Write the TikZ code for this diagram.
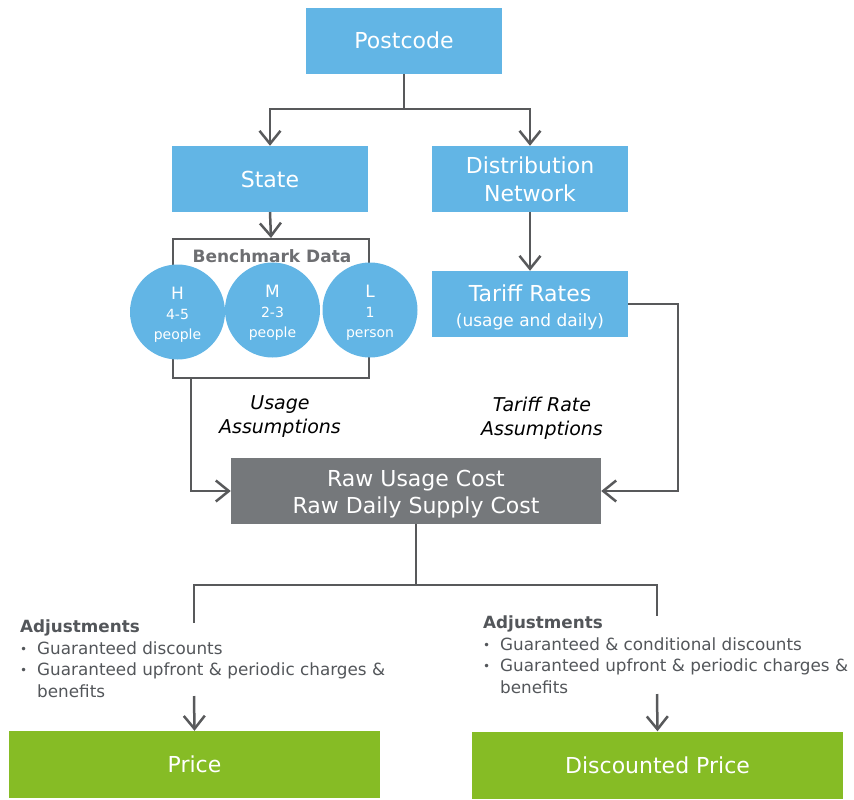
\documentclass[tikz,border=0pt]{standalone}
\usepackage{fontspec}
\setmainfont{DejaVu Sans}
\usetikzlibrary{arrows.meta}
\definecolor{boxblue}{HTML}{62B5E5}
\definecolor{boxgray}{HTML}{75787B}
\definecolor{boxgreen}{HTML}{86BC25}
\definecolor{linegray}{HTML}{58595B}
\definecolor{textgray}{HTML}{53565A}
\definecolor{labelgray}{HTML}{6D6E71}
\newcommand{\dotmark}{\makebox[17pt][l]{\fontsize{12}{12}\selectfont\raisebox{1pt}{•}}}
% centred lines of text, moved by #1 while keeping their reported size
\newcommand{\lines}[2]{\raisebox{#1}[\height][\depth]{\begin{tabular}{@{}c@{}}#2\end{tabular}}}
\begin{document}
\begin{tikzpicture}[x=1pt,y=-1pt,
  fillbox/.style={rectangle, inner sep=0pt, text=white, align=center,
    font=\fontsize{22}{28}\selectfont},
  bluebox/.style={fillbox, fill=boxblue, minimum width=196pt, minimum height=66pt},
  graybox/.style={fillbox, fill=boxgray, minimum width=370pt, minimum height=66pt},
  greenbox/.style={fillbox, fill=boxgreen, minimum width=371pt, minimum height=67pt},
  group/.style={rectangle, draw=linegray, line width=2pt, inner sep=0pt,
    minimum width=196pt, minimum height=139pt},
  disc/.style={circle, fill=boxblue, inner sep=0pt, minimum size=95pt,
    text=white, align=center, font=\fontsize{14}{20}\selectfont},
  conn/.style={draw=linegray, line width=2.5pt},
  arr/.style={conn, -{Straight Barb[length=13pt,width=21pt]}},
  note/.style={text=textgray, align=left, inner sep=0pt,
    font=\fontsize{16.8}{21.5}\selectfont},
  assume/.style={text=black, align=center, inner sep=0pt,
    font=\fontsize{19}{24}\selectfont\itshape}
]
\useasboundingbox (0,0) rectangle (854,800);

% top level
\node[bluebox] (post) at (404,41) {\raisebox{1pt}{Postcode}};
\node[bluebox] (state) at (270,179) {State};
\node[bluebox] (dist) at (530,179) {Distribution\\Network};

\coordinate (split) at (404,109);
\draw[conn] (post.south) -- (split);
\draw[arr] (split) -| (state.north);
\draw[arr] (split) -| (dist.north);

% benchmark data group
\node[group] (bench) at (271,308.5) {};
\node[text=labelgray, font=\fontsize{17}{18}\selectfont\bfseries, anchor=base, inner sep=0pt]
  (benchlbl) at (272,262) {Benchmark Data};
\node[disc] (dh) at (177.5,312) {\lines{-3.5pt}{{\fontsize{17}{20}\selectfont H}\\4-5\\people}};
\node[disc] (dm) at (272.5,310) {\lines{-3.5pt}{{\fontsize{17}{20}\selectfont M}\\2-3\\people}};
\node[disc] (dl) at (370,310) {\lines{-3.5pt}{{\fontsize{17}{20}\selectfont L}\\1\\person}};

\draw[arr] (state.south) -- (bench.north);

% tariff branch
\node[bluebox, font=\fontsize{22}{25}\selectfont] (tariff) at (530,304)
  {\lines{-5pt}{Tariff Rates\\{\fontsize{17}{20}\selectfont (usage and daily)}}};
\draw[arr] (dist.south) -- (tariff.north);

% raw cost
\node[graybox, font=\fontsize{22}{27}\selectfont] (raw) at (416,491)
  {\lines{-3.5pt}{Raw Usage Cost\\Raw Daily Supply Cost}};

\draw[arr] ([xshift=19pt]bench.south west) |- (raw.west);
\draw[arr] (tariff.east) -- ++(50,0) |- (raw.east);

\node[assume] (usage) at (280,417) {Usage\\Assumptions};
\node[assume] (tassume) at (542,418) {Tariff Rate\\Assumptions};

% adjustments and final prices
\coordinate (split2) at (416,585);
\coordinate (leftend) at (194,623);
\coordinate (rightend) at (657,616);
\draw[conn] (raw.south) -- (split2);
\draw[conn] (split2) -| (leftend);
\draw[conn] (split2) -| (rightend);

% the base anchor of a multi-line node sits on its last line
\node[note, anchor=base west] (adjl) at (20,697)
  {\textbf{Adjustments}\\
   \dotmark Guaranteed discounts\\
   \dotmark Guaranteed upfront \& periodic charges \&\\
   \hspace*{17pt}benefits};
\node[note, anchor=base west] (adjr) at (483,693)
  {\textbf{Adjustments}\\
   \dotmark Guaranteed \& conditional discounts\\
   \dotmark Guaranteed upfront \& periodic charges \&\\
   \hspace*{17pt}benefits};

\node[greenbox] (price) at (194.5,764.5) {Price};
\node[greenbox] (dprice) at (657.5,765) {Discounted Price};

\coordinate (lstart) at (194,696);
\coordinate (rstart) at (657,694);
\draw[arr] (lstart) -- (price.north);
\draw[arr] (rstart) -- (dprice.north);
\end{tikzpicture}
\end{document}
